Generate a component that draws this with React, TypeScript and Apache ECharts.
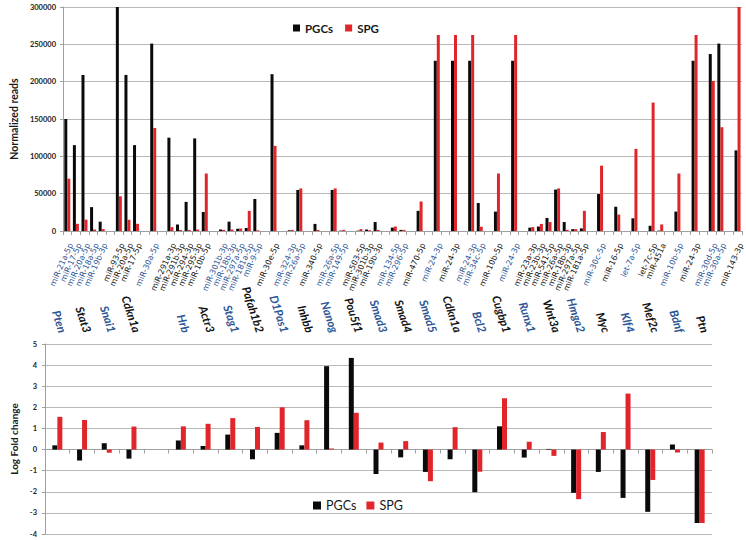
import React, { useEffect, useRef } from "react";
import * as echarts from "echarts";

// ---------- Top chart data: miRNA groups (one group per target gene) ----------
const mirnaGroups: string[][] = [
  ["miR-21a-5p", "miR-17-5p", "miR-20a-5p", "miR-18a-5p", "miR-19b-3p"],
  ["miR-93-5p", "miR-20a-5p", "miR-17-5p"],
  ["miR-30a-5p"],
  ["miR-291a-3p", "miR-291b-3p", "miR-294-3p", "miR-295-3p", "miR-10b-5p"],
  ["miR-301b-3p", "miR-18b-3p", "miR-297a-5p", "miR-181a-5p", "miR-9-5p"],
  ["miR-30e-5p"],
  ["miR-324-3p", "miR-26a-5p"],
  ["miR-340-5p"],
  ["miR-26a-5p", "miR-149-5p"],
  ["miR-503-5p", "miR-301b-3p", "miR-19b-3p"],
  ["miR-134-5p", "miR-296-5p"],
  ["miR-470-5p"],
  ["miR-24-3p"],
  ["miR-24-3p"],
  ["miR-24-3p", "miR-34c-5p"],
  ["miR-10b-5p"],
  ["miR-24-3p"],
  ["miR-23a-3p", "miR-23b-3p", "miR-541-5p", "miR-26a-5p", "miR-18b-3p", "miR-297a-5p", "miR-181a-5p"],
  ["miR-30c-5p"],
  ["miR-16-5p"],
  ["let-7a-5p"],
  ["let-7c-5p", "miR-451a"],
  ["miR-10b-5p"],
  ["miR-24-3p"],
  ["miR-30d-5p", "miR-30a-5p"],
  ["miR-143-3p"],
];

const pgcReads: number[][] = [
  [150000, 115000, 209000, 32000, 12500],
  [300000, 209000, 115000],
  [251000],
  [125000, 8700, 39000, 124000, 25500],
  [2000, 12500, 3000, 4000, 43000],
  [210000],
  [1000, 55000],
  [9500],
  [55000, 500],
  [500, 2000, 12000],
  [4500, 1500],
  [27000],
  [228000],
  [228000],
  [228000, 37500],
  [26000],
  [228000],
  [4500, 6000, 17500, 55500, 12000, 2500, 3500],
  [49500],
  [32500],
  [17000],
  [7000, 500],
  [26000],
  [228000],
  [237000, 251000],
  [108000],
];

const spgReads: number[][] = [
  [70000, 9600, 15200, 2000, 2500],
  [46500, 15200, 9600],
  [138000],
  [5200, 1500, 1500, 2000, 77000],
  [1500, 2000, 3300, 27000, 1000],
  [114000],
  [1500, 57000],
  [1500],
  [57000, 1500],
  [2500, 1000, 1500],
  [6000, 1500],
  [39500],
  [262500],
  [262500],
  [262500, 5700],
  [77000],
  [262500],
  [5300, 9500, 12000, 57000, 1500, 2500, 27000],
  [87500],
  [22000],
  [110000],
  [172000, 8800],
  [77000],
  [262500],
  [201000, 139000],
  [300000],
];

const readTicks = { min: 0, max: 300000, interval: 50000 };

// ---------- Bottom chart data: log fold change per gene ----------
const genes: string[] = [
  "Pten", "Stat3", "Snai1", "Cdkn1a", "Hrb", "Actr3", "Stag1", "Pafah1b2", "D1Pas1",
  "Inhbb", "Nanog", "Pou5f1", "Smad3", "Smad4", "Smad5", "Cdkn1a", "Bcl2", "Cugbp1",
  "Runx1", "Wnt3a", "Hmga2", "Myc", "Klf4", "Mef2c", "Bdnf", "Ptn",
];
const pgcLogFC: number[] = [
  0.2, -0.52, 0.3, -0.43, 0.43, 0.17, 0.71, -0.46, 0.79, 0.2, 3.95, 4.34, -1.16, -0.37,
  -1.06, -0.46, -2.02, 1.1, -0.38, 0.03, -2.05, -1.06, -2.29, -2.95, 0.24, -3.48,
];
const spgLogFC: number[] = [
  1.55, 1.4, -0.15, 1.09, 1.1, 1.22, 1.49, 1.07, 2.0, 1.39, 0.05, 1.74, 0.33, 0.4,
  -1.5, 1.06, -1.05, 2.43, 0.37, -0.3, -2.35, 0.83, 2.65, -1.44, -0.14, -3.48,
];
const geneSpacerAfter = 3; // an empty category follows the 4th gene
const foldTicks = { min: -4, max: 5, interval: 1 };

const seriesNames = ["PGCs", "SPG"];

// ---------- styles ----------
const BLACK = "#0a0a0a";
const RED = "#e0262b";
const BLUE = "#2b5594";
const LABEL_BLACK = "#111111";
const GRID = "#b8b8b8";
const FONT = "Lato, 'DejaVu Sans', sans-serif";
const SMALL_FONT = "'DejaVu Sans', Lato, sans-serif";

function buildTop() {
  const labels: string[] = [];
  const colorIdx: number[] = [];
  const pgc: (number | null)[] = [];
  const spg: (number | null)[] = [];
  mirnaGroups.forEach((g, gi) => {
    if (gi > 0) {
      labels.push("");
      colorIdx.push(0);
      pgc.push(null);
      spg.push(null);
    }
    g.forEach((m, j) => {
      labels.push(m);
      colorIdx.push(gi % 2);
      pgc.push(pgcReads[gi][j]);
      spg.push(spgReads[gi][j]);
    });
  });
  return { labels, colorIdx, pgc, spg, cats: labels.map((_, i) => "m" + i) };
}

function buildBottom() {
  const labels: string[] = [];
  const colorIdx: number[] = [];
  const pgc: (number | null)[] = [];
  const spg: (number | null)[] = [];
  genes.forEach((g, i) => {
    labels.push(g);
    colorIdx.push(i % 2);
    pgc.push(pgcLogFC[i]);
    spg.push(spgLogFC[i]);
    if (i === geneSpacerAfter) {
      labels.push("");
      colorIdx.push(0);
      pgc.push(null);
      spg.push(null);
    }
  });
  return { labels, colorIdx, pgc, spg, cats: labels.map((_, i) => "g" + i) };
}

export default function App() {
  const ref = useRef<HTMLDivElement>(null);

  useEffect(() => {
    if (!ref.current) return;
    const chart = echarts.init(ref.current, undefined, { renderer: "svg" });
    const top = buildTop();
    const bot = buildBottom();

    const option: any = {
      animation: false,
      backgroundColor: "#ffffff",
      textStyle: { fontFamily: FONT },
      legend: [
        {
          data: seriesNames,
          left: 288,
          top: 17,
          itemWidth: 7,
          itemHeight: 7,
          itemGap: 12,
          icon: "rect",
          selectedMode: false,
          textStyle: { fontFamily: FONT, fontSize: 11.5, fontWeight: "bold", color: "#1a1a1a" },
        },
        {
          data: seriesNames,
          left: 308,
          top: 494,
          itemWidth: 8,
          itemHeight: 8,
          itemGap: 10,
          icon: "rect",
          selectedMode: false,
          textStyle: { fontFamily: FONT, fontSize: 12.5, color: "#1a1a1a" },
        },
      ],
      grid: [
        { left: 52, top: 7, width: 690, height: 224 },
        { left: 45, top: 344, width: 667, height: 190 },
      ],
      xAxis: [
        {
          type: "category",
          gridIndex: 0,
          data: top.cats,
          axisLine: { lineStyle: { color: "#a0a0a0" } },
          axisTick: { show: true, interval: 0, length: 4, lineStyle: { color: "#a0a0a0" } },
          axisLabel: {
            interval: 0,
            rotate: 66,
            margin: 11,
            verticalAlign: "top",
            fontSize: 8,
            fontFamily: SMALL_FONT,
            formatter: (_v: string, i: number) => top.labels[i],
            color: (_v: string, i: number) => (top.colorIdx[i] === 0 ? BLUE : LABEL_BLACK),
          },
        },
        {
          type: "category",
          gridIndex: 1,
          data: bot.cats,
          position: "bottom",
          axisLine: { onZero: true, lineStyle: { color: "#a0a0a0" } },
          axisTick: { show: true, interval: 0, length: 4, lineStyle: { color: "#a0a0a0" } },
          axisLabel: { show: false },
        },
        {
          type: "category",
          gridIndex: 1,
          data: bot.cats,
          position: "top",
          axisLine: { show: false, onZero: false },
          axisTick: { show: false },
          axisLabel: {
            interval: 0,
            rotate: 72,
            margin: 10,
            verticalAlign: "bottom",
            fontSize: 11.5,
            fontStyle: "italic",
            fontWeight: "bold",
            fontFamily: FONT,
            formatter: (_v: string, i: number) => bot.labels[i],
            color: (_v: string, i: number) => (bot.colorIdx[i] === 0 ? BLUE : LABEL_BLACK),
          },
        },
      ],
      yAxis: [
        {
          type: "value",
          gridIndex: 0,
          ...readTicks,
          name: "Normalized reads",
          nameLocation: "middle",
          nameGap: 36,
          nameTextStyle: { fontFamily: FONT, fontSize: 10.5, fontWeight: "bold", color: "#1a1a1a" },
          axisLine: { show: true, lineStyle: { color: "#a0a0a0" } },
          axisTick: { show: true, length: 3, lineStyle: { color: "#a0a0a0" } },
          axisLabel: {
            fontSize: 7.5,
            fontWeight: "bold",
            color: "#222",
            margin: 7,
            fontFamily: FONT,
            formatter: (v: number) => String(v),
          },
          splitLine: { lineStyle: { color: GRID } },
        },
        {
          type: "value",
          gridIndex: 1,
          ...foldTicks,
          name: "Log Fold change",
          nameLocation: "middle",
          nameGap: 17,
          nameTextStyle: { fontFamily: FONT, fontSize: 10, fontWeight: "bold", color: "#1a1a1a" },
          axisLine: { show: true, lineStyle: { color: "#a0a0a0" } },
          axisTick: { show: true, length: 3, lineStyle: { color: "#a0a0a0" } },
          axisLabel: {
            fontSize: 7.5,
            fontWeight: "bold",
            color: "#222",
            margin: 8,
            fontFamily: FONT,
            formatter: (v: number) => String(v),
          },
          splitLine: { lineStyle: { color: GRID } },
        },
      ],
      series: [
        {
          name: seriesNames[0],
          type: "bar",
          xAxisIndex: 0,
          yAxisIndex: 0,
          data: top.pgc,
          barWidth: 3,
          barGap: "0%",
          itemStyle: { color: BLACK },
        },
        {
          name: seriesNames[1],
          type: "bar",
          xAxisIndex: 0,
          yAxisIndex: 0,
          data: top.spg,
          barWidth: 3,
          barGap: "0%",
          itemStyle: { color: RED },
        },
        {
          name: seriesNames[0],
          type: "bar",
          xAxisIndex: 1,
          yAxisIndex: 1,
          data: bot.pgc,
          barWidth: 5,
          barGap: "0%",
          itemStyle: { color: BLACK },
        },
        {
          name: seriesNames[1],
          type: "bar",
          xAxisIndex: 1,
          yAxisIndex: 1,
          data: bot.spg,
          barWidth: 5,
          barGap: "0%",
          itemStyle: { color: RED },
        },
      ],
    };

    chart.setOption(option);
    return () => chart.dispose();
  }, []);

  return (
    <div
      ref={ref}
      style={{ position: "absolute", left: 0, top: 0, width: 746, height: 540, background: "#fff" }}
    />
  );
}
